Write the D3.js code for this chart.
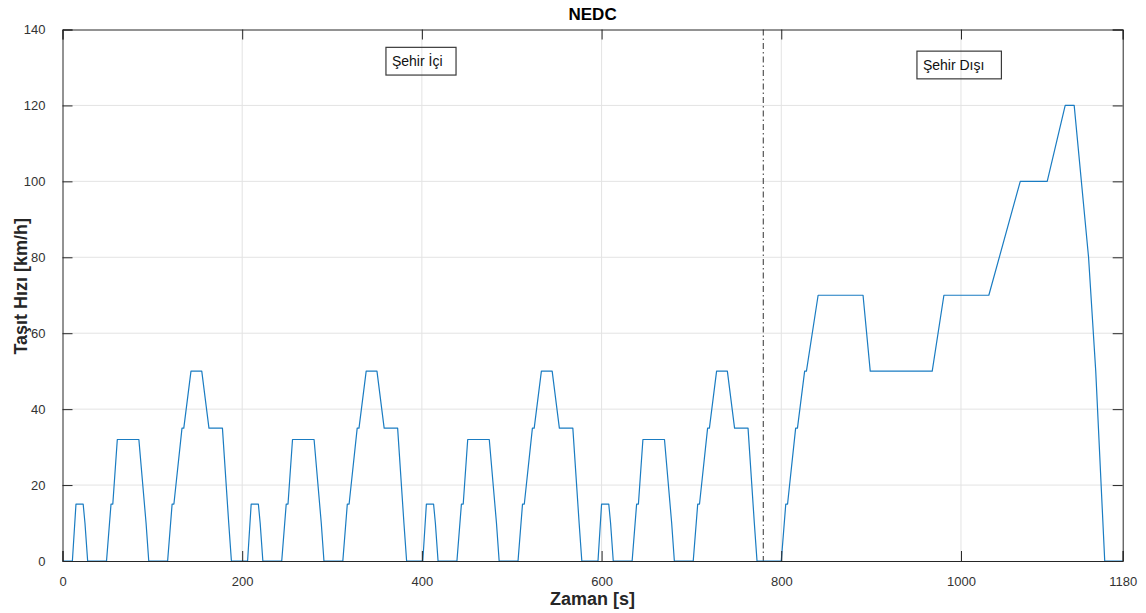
<!DOCTYPE html>
<html>
<head>
<meta charset="utf-8">
<script src="https://cdn.jsdelivr.net/npm/d3@7"></script>
<style>
  html, body { margin: 0; padding: 0; background: #fff; }
  svg { display: block; font-family: "Liberation Sans", Arial, Helvetica, sans-serif; }
</style>
</head>
<body>
<svg id="chart" width="1146" height="613"></svg>
<script>
// ---- Data (NEDC breakpoints: time [s], speed [km/h]) ----
const timeECE1 = [0,11,15,23,25,28,49,54,56,61,85,93,96,117,122,124,133,135,143,155,163,176,178,185,188,195];
const speedECE1 = [0,0,15,15,10,0,0,15,15,32,32,10,0,0,15,15,35,35,50,50,35,35,35,10,0,0];
const timeECE2 = [195,206,210,218,220,223,244,249,251,256,280,288,291,312,317,319,328,330,338,350,358,371,373,380,383,390];
const speedECE2 = [0,0,15,15,10,0,0,15,15,32,32,10,0,0,15,15,35,35,50,50,35,35,35,10,0,0];
const timeECE3 = [390,401,405,413,415,418,439,444,446,451,475,483,486,507,512,514,523,525,533,545,553,566,568,575,578,585];
const speedECE3 = [0,0,15,15,10,0,0,15,15,32,32,10,0,0,15,15,35,35,50,50,35,35,35,10,0,0];
const timeECE4 = [585,596,600,608,610,613,634,639,641,646,670,678,681,702,707,709,718,720,728,740,748,761,763,770,773,780];
const speedECE4 = [0,0,15,15,10,0,0,15,15,32,32,10,0,0,15,15,35,35,50,50,35,35,35,10,0,0];
const timeEUDC = [780,800,805,807,816,818,826,828,841,891,899,968,981,1031,1066,1096,1116,1126,1142,1150,1160,1180];
const speedEUDC = [0,0,15,15,35,35,50,50,70,70,50,50,70,70,100,100,120,120,80,50,0,0];

const xTicks = [0, 200, 400, 600, 800, 1000, 1180];
const yTicks = [0, 20, 40, 60, 80, 100, 120, 140];
const separatorTime = 780;
const titleText = "NEDC";
const xLabel = "Zaman [s]";
const yLabel = "Taşıt Hızı [km/h]";
const annotations = [
  { text: "Şehir İçi", t0: 360, t1: 438, v0: 135.3, v1: 128.0 },
  { text: "Şehir Dışı", t0: 951, t1: 1045, v0: 134.3, v1: 127.0 }
];

// ---- Build series ----
const times = [].concat(timeECE1, timeECE2, timeECE3, timeECE4, timeEUDC);
const speeds = [].concat(speedECE1, speedECE2, speedECE3, speedECE4, speedEUDC);
const data = times.map((t, i) => ({ t, v: speeds[i] }));

// ---- Layout ----
const svg = d3.select("#chart");
const L = 62.5, R = 1122.7, T = 29.5, B = 561;
const x = d3.scaleLinear().domain([0, 1180]).range([L, R]);
const y = d3.scaleLinear().domain([0, 140]).range([B, T]);
const axisColor = "#262626";
const gridColor = "#e3e3e3";
const tickLen = 10;

// Grid
const g = svg.append("g");
g.selectAll(".vg").data(xTicks.filter(d => d > 0 && d < 1180)).enter().append("line")
  .attr("x1", d => x(d)).attr("x2", d => x(d)).attr("y1", T).attr("y2", B)
  .attr("stroke", gridColor).attr("stroke-width", 1);
g.selectAll(".hg").data(yTicks.filter(d => d > 0 && d < 140)).enter().append("line")
  .attr("y1", d => y(d)).attr("y2", d => y(d)).attr("x1", L).attr("x2", R)
  .attr("stroke", gridColor).attr("stroke-width", 1);

// Annotation boxes (transparent)
annotations.forEach(a => {
  const bx0 = x(a.t0), bx1 = x(a.t1), by0 = y(a.v0), by1 = y(a.v1);
  svg.append("rect").attr("x", bx0).attr("y", by0)
    .attr("width", bx1 - bx0).attr("height", by1 - by0)
    .attr("fill", "none").attr("stroke", "#3a3a3a").attr("stroke-width", 1.2);
  svg.append("text").attr("x", bx0 + 6).attr("y", (by0 + by1) / 2 + 5)
    .attr("font-size", 14).attr("fill", "#111").text(a.text);
});

// Separator dash-dot line
svg.append("line")
  .attr("x1", x(separatorTime)).attr("x2", x(separatorTime))
  .attr("y1", T).attr("y2", B)
  .attr("stroke", "#555").attr("stroke-width", 1.2)
  .attr("stroke-dasharray", "6,3,1.5,3");

// Data line
const line = d3.line().x(d => x(d.t)).y(d => y(d.v));
svg.append("path").datum(data)
  .attr("d", line).attr("fill", "none")
  .attr("stroke", "#1a7cc2").attr("stroke-width", 1.2)
  .attr("stroke-linejoin", "round");

// Axes (MATLAB-like: inward ticks, box)
const xAxisB = d3.axisBottom(x).tickValues(xTicks).tickSize(-tickLen).tickPadding(tickLen + 6).tickFormat(d3.format("d"));
const xAxisT = d3.axisTop(x).tickValues(xTicks).tickSize(-tickLen).tickFormat("");
const yAxisL = d3.axisLeft(y).tickValues(yTicks).tickSize(-tickLen).tickPadding(tickLen + 7).tickFormat(d3.format("d"));
const yAxisR = d3.axisRight(y).tickValues(yTicks).tickSize(-tickLen).tickFormat("");

function styleAxis(sel) {
  sel.select(".domain").attr("stroke", axisColor).attr("stroke-width", 1);
  sel.selectAll(".tick line").attr("stroke", axisColor).attr("stroke-width", 1);
  sel.selectAll(".tick text").attr("fill", "#333").attr("font-size", 13)
    .attr("font-family", "'Liberation Sans', Arial, sans-serif");
}
svg.append("g").attr("transform", `translate(0,${B})`).call(xAxisB).call(styleAxis);
svg.append("g").attr("transform", `translate(0,${T})`).call(xAxisT).call(styleAxis);
svg.append("g").attr("transform", `translate(${L},0)`).call(yAxisL).call(styleAxis);
svg.append("g").attr("transform", `translate(${R},0)`).call(yAxisR).call(styleAxis);

// Title and labels
svg.append("text").attr("x", (L + R) / 2).attr("y", 20)
  .attr("text-anchor", "middle").attr("font-weight", "bold").attr("font-size", 17)
  .attr("fill", "#000").text(titleText);
svg.append("text").attr("x", (L + R) / 2).attr("y", 605)
  .attr("text-anchor", "middle").attr("font-weight", "bold").attr("font-size", 18)
  .attr("fill", "#262626").text(xLabel);
svg.append("text").attr("transform", `translate(27,${(T + B) / 2 - 9}) rotate(-90)`)
  .attr("text-anchor", "middle").attr("font-weight", "bold").attr("font-size", 18)
  .attr("fill", "#262626").text(yLabel);
</script>
</body>
</html>
